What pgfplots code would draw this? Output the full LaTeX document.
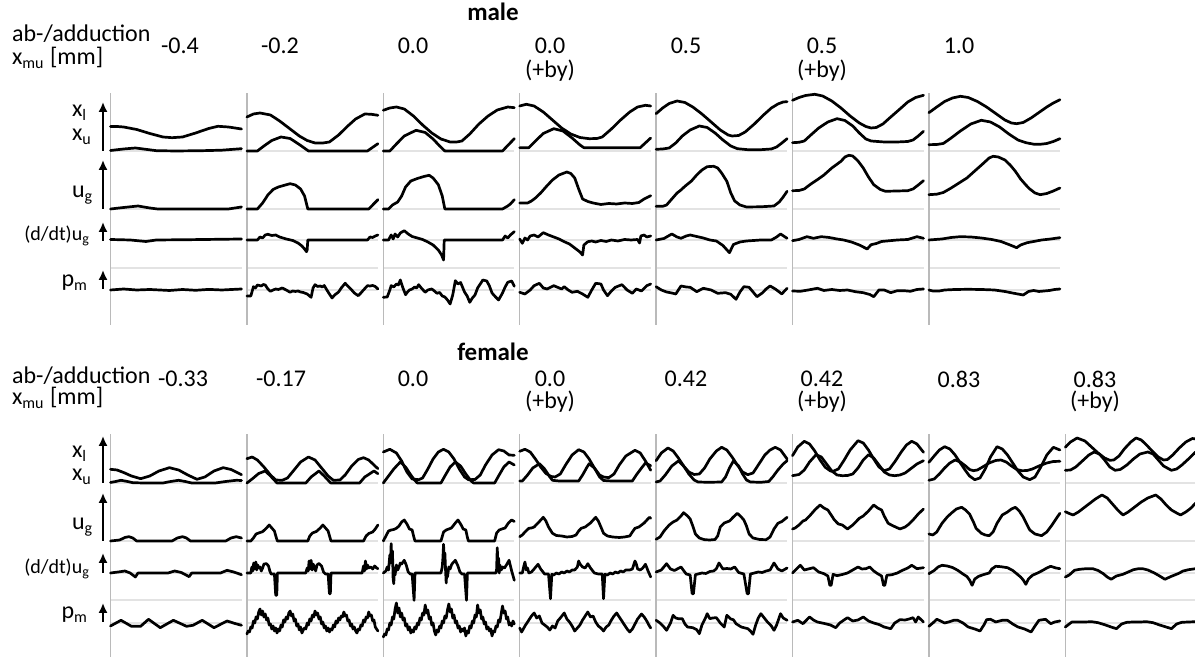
\documentclass[border=0pt]{standalone}
\usepackage{fontspec}
\setmainfont{Carlito}
\usepackage{pgfplots}
\pgfplotsset{compat=1.18}
\usetikzlibrary{arrows.meta}

% column origins (px) and helper styles; one px = 0.5pt
\def\ca{110.5}\def\cb{246.9}\def\cc{383.3}\def\cd{519.7}
\def\ce{656.1}\def\cf{792.5}\def\cg{928.9}\def\ch{1065.3}
\pgfplotsset{
  cell/.style 2 args={x filter/.expression={#1+1.31*x}, y filter/.expression={657-#2+y}},
  sig/.style={black, line width=1.35pt, line join=round, line cap=round},
  gl/.style={black!11, line width=1pt},
  vl/.style={black!27, line width=0.7pt},
  arr/.style={black, line width=1pt, -{Latex[length=5pt,width=4.6pt]}},
}
\newcommand{\mgrid}[1]{%
  \addplot[gl,cell={#1}{151}] coordinates {(0,0)(100,0)};
  \addplot[gl,cell={#1}{209}] coordinates {(0,0)(100,0)};
  \addplot[gl,cell={#1}{240}] coordinates {(0,0)(100,0)};
  \addplot[gl,cell={#1}{268}] coordinates {(0,0)(100,0)};
  \addplot[gl,cell={#1}{290}] coordinates {(0,0)(100,0)};
  \addplot[vl,cell={#1}{325}] coordinates {(0,0)(0,232)};}
\newcommand{\fgrid}[1]{%
  \addplot[gl,cell={#1}{483}] coordinates {(0,0)(100,0)};
  \addplot[gl,cell={#1}{541}] coordinates {(0,0)(100,0)};
  \addplot[gl,cell={#1}{573}] coordinates {(0,0)(100,0)};
  \addplot[gl,cell={#1}{600}] coordinates {(0,0)(100,0)};
  \addplot[gl,cell={#1}{623}] coordinates {(0,0)(100,0)};
  \addplot[vl,cell={#1}{657}] coordinates {(0,0)(0,223)};}

\begin{document}
\begin{tikzpicture}
\begin{axis}[width=597.5pt, height=328.5pt, scale only axis,
  xmin=0, xmax=1195, ymin=0, ymax=657, hide axis, clip=false,
  every node/.style={inner sep=0pt}]

\mgrid{\ca}\mgrid{\cb}\mgrid{\cc}\mgrid{\cd}\mgrid{\ce}\mgrid{\cf}\mgrid{\cg}
\fgrid{\ca}\fgrid{\cb}\fgrid{\cc}\fgrid{\cd}\fgrid{\ce}\fgrid{\cf}\fgrid{\cg}\fgrid{\ch}

% row arrows
\addplot[arr,cell={103}{151}] coordinates {(0,0)(0,49)};
\addplot[arr,cell={103}{209}] coordinates {(0,0)(0,49)};
\addplot[arr,cell={103}{241}] coordinates {(0,0)(0,19)};
\addplot[arr,cell={103}{289}] coordinates {(0,0)(0,19)};
\addplot[arr,cell={103}{483}] coordinates {(0,0)(0,47)};
\addplot[arr,cell={103}{541}] coordinates {(0,0)(0,48)};
\addplot[arr,cell={103}{573}] coordinates {(0,0)(0,20)};
\addplot[arr,cell={103}{622}] coordinates {(0,0)(0,19)};

% ================= male =================
% col 1 (-0.4)
\addplot[sig,cell={\ca}{151}] coordinates {(0,24.5)(5,24.5)(10,24)(20,21.5)(30,17.5)(40,14)(47,13.3)(55,14)(65,18)(75,22.5)(82,24.7)(90,24)(100,22)};
\addplot[sig,cell={\ca}{151}] coordinates {(0,0.5)(10,2)(19,3)(28,1.5)(35,0.3)(50,0)(70,0.3)(85,0.8)(100,2.3)};
\addplot[sig,cell={\ca}{209}] coordinates {(0,0)(10,1.5)(21,3)(30,1)(36,0)(90,0)(100,2)};
\addplot[sig,cell={\ca}{240}] coordinates {(0,0.5)(15,0)(27,-1.5)(35,0)(60,0.3)(100,1)};
\addplot[sig,cell={\ca}{290}] coordinates {(0,0)(10,1)(20,0)(30,0.5)(45,-0.5)(55,0.5)(65,-0.3)(75,0.6)(85,0)(100,1)};
% col 2 (-0.2)
\addplot[sig,cell={\cb}{151}] coordinates {(0,34)(5,37)(10,38)(18,36)(25,30)(33,22)(40,15)(46,10.5)(52,8)(58,8)(63,9)(70,16)(77,25)(83,32)(90,37)(95,36.7)(100,35.7)};
\addplot[sig,cell={\cb}{151}] coordinates {(0,0)(8,0)(13,5)(19,10.5)(26,14)(33,12.5)(40,6.5)(47,0)(92,0)(100,7.3)};
\addplot[sig,cell={\cb}{209}] coordinates {(0,0)(8,0)(12,6)(16,14)(20,19.5)(24,22)(28,23.5)(33,25.3)(37,24)(41,20)(44,13)(46.5,0)(93,0)(100,9.3)};
\addplot[sig,cell={\cb}{240}] coordinates {(0,0)(8,0)(10,3)(12,2)(14,5)(16,5.7)(19,4.5)(22,5)(25,3)(30,1)(35,-0.5)(39,-3)(42,-6)(44,-9)(45.5,-11.7)(46,-10)(46.5,0)(92,0)(94,3)(96,2.5)(98,4)(100,5)};
\addplot[sig,cell={\cb}{290}] coordinates {(0,-6)(3,-6)(5,3.3)(6.5,2)(8,5)(11,4)(12.5,5.5)(14,5)(16,1)(18,-1.3)(20,0)(22,1)(24,0.5)(27,2)(30,0)(33,-2.3)(35,-1)(37,-1.5)(39,-1)(41,-2)(43,-2.5)(46,-4)(49,-7.3)(50.5,2)(52,5.3)(54,3.5)(56,4)(57.5,3)(59,4.5)(62,-2)(65,-8)(67,-5)(70,-2)(72,2)(75,6.7)(77,4)(80,0)(82,-3)(85,-5.7)(87,-3)(89,0)(92,4.3)(94,4)(96,4.5)(98,3.5)(100,1)};
% col 3 (0.0)
\addplot[sig,cell={\cc}{151}] coordinates {(0,40.7)(5,43)(10,44)(16,42)(23,35)(30,26)(37,18)(44,12)(51,9)(56,9)(60,10)(66,17)(73,27)(80,35)(87,41)(95,44)(100,43.3)};
\addplot[sig,cell={\cc}{151}] coordinates {(0,0)(5,0)(10,7)(16,15)(25,20.7)(32,18.5)(38,12)(43,5)(47,0)(91,0)(100,12.3)};
\addplot[sig,cell={\cc}{209}] coordinates {(0,0)(4,0)(7,4)(11,7)(14,13)(17,22)(21,28)(26,30.5)(31,32.5)(35,33.7)(38,31)(42,24.3)(45,13)(47,0)(91,0)(95,3)(97,5)(100,9.3)};
\addplot[sig,cell={\cc}{240}] coordinates {(0,0)(4,0)(6,5)(7.5,1)(9,6)(11,3)(13,7)(16,9.3)(19,6)(22,3.5)(26,2)(30,0.5)(34,-2)(38,-5)(42,-10)(44.5,-15)(46,-20)(46.5,0)(91,0)(93,4)(95,2)(97,5)(100,8.3)};
\addplot[sig,cell={\cc}{290}] coordinates {(0,-7.3)(3,-7)(5,0)(6,4.3)(8,3)(10,6)(11.5,5)(13,10)(15,2)(17,-4.7)(18.5,-2)(20,0)(22,1)(24,3)(25.5,2)(27,5.3)(29,2)(32,-2.3)(34,0)(37,1)(39,-1)(41,-3.3)(43,-2.5)(45,-6)(47,-7)(49,-10)(51,-14)(53,-5)(55,9.3)(57,6)(59,7.5)(62,-2)(64,-6)(66,-12.3)(68,-8)(70,-5)(72,2)(74,6)(76,10)(79,9)(81,4)(83,-3)(85,-6)(88,-10)(91,-3)(93,3)(95,7.7)(98,9)(100,3.7)};
% col 4 (0.0 +by)
\addplot[sig,cell={\cd}{151}] coordinates {(0,45)(5,46.7)(11,45)(18,39)(25,31)(32,23)(39,17)(46,13.5)(53,12.3)(59,12.5)(63,14)(70,22)(77,31)(84,39)(90,44)(96,45.7)(100,45)};
\addplot[sig,cell={\cd}{151}] coordinates {(0,3.3)(7,3.3)(12,10)(18,17.5)(26,22.3)(33,20)(40,13)(46,6)(49,3.3)(92,3.3)(100,13)};
\addplot[sig,cell={\cd}{209}] coordinates {(0,6)(6,6)(9,8)(12,11)(16,16)(20,22)(25,29)(30,34)(36,37)(39,35.5)(42,31)(45,20)(48,10)(52,7.5)(56,6)(62,4.5)(68,5.5)(74,5)(80,6)(86,5.5)(91,6.5)(95,10)(100,13.3)};
\addplot[sig,cell={\cd}{240}] coordinates {(0,1)(2,-3.3)(4,2)(6,0)(8,4)(11,5)(14,3)(18,7.3)(22,5)(26,3)(30,1)(34,-1.7)(38,-4)(42,-8)(46,-12)(48,-15)(49,-5)(52,-1.7)(55,-1)(58,-2)(62,-0.5)(66,-1.5)(70,0)(75,-1)(80,0.5)(85,0)(90,0.5)(91.5,-3)(92.5,4)(95,5)(97,3)(100,4)};
\addplot[sig,cell={\cd}{290}] coordinates {(0,-2.3)(4,-4)(8,0)(11,4.3)(15,6.7)(18,2)(21,1)(26,4.3)(32,1)(34,3.3)(37,0)(40,-2.3)(44,-1.3)(48,-4)(52,-7.3)(55,0)(58,6.7)(62,6)(64,0)(67,-5.7)(70,-1)(73,2.7)(78,5.3)(82,0)(86,-3.3)(89,1)(93,-1)(97,4.3)(100,6)};
% col 5 (0.5)
\addplot[sig,cell={\ce}{151}] coordinates {(0,37.3)(5,43)(10,47.5)(16,50)(22,48.5)(28,44)(35,37)(42,29)(49,21)(55,16)(58,15)(63,15.5)(68,19)(75,27)(82,36)(88,43)(93,47)(97,49)(100,49.3)};
\addplot[sig,cell={\ce}{151}] coordinates {(0,1.7)(5,2)(10,3)(15,8)(20,15)(26,21)(33,25)(39,23.5)(45,18)(51,11)(57,5)(62,2.3)(70,1.3)(80,1.3)(88,2)(92,4)(96,8)(100,12.3)};
\addplot[sig,cell={\ce}{209}] coordinates {(0,2.7)(5,2.7)(8,4)(12,10)(16,16)(19,19)(22,22.7)(27,28)(31,34)(35,39)(39,42.3)(44,42.7)(47,41)(50,36)(54,27.7)(57,16)(60,8)(64,4)(69,2)(80,2.2)(90,3)(94,7)(97,12)(100,17.7)};
\addplot[sig,cell={\ce}{240}] coordinates {(0,0)(6,1.5)(12,6)(16,3)(19,1.7)(23,4)(26,5)(31,3.5)(36,2)(41,0)(46,-1)(51,-5.5)(56,-12.7)(59,-4.5)(64,-2)(69,-1)(80,0)(88,0)(92,3)(95,6)(100,1.7)};
\addplot[sig,cell={\ce}{290}] coordinates {(0,3.3)(4,0)(8,-2)(12,-3)(15,-4)(17,0)(19,4)(23,3)(26,2.7)(31,-1.7)(36,1.7)(42,0)(47,-3.3)(53,-2.7)(57,-4.3)(61,-9.3)(64,-2)(67,3.3)(71,2.7)(74,-2)(77,-6.7)(81,-3)(84,1)(87,4)(91,1)(94,-2)(96,-4)(98,-1)(100,1.7)};
% col 6 (0.5 +by)
\addplot[sig,cell={\cf}{151}] coordinates {(0,50.7)(5,53.5)(10,55.5)(17,56.7)(23,55)(30,50)(37,43)(44,35)(51,28)(56,24.5)(60,23)(64,23.5)(69,27)(75,34)(82,42)(88,49)(94,53.5)(100,55.7)};
\addplot[sig,cell={\cf}{151}] coordinates {(0,8.3)(5,8.7)(9,10)(14,16)(20,23)(27,29)(34,32.3)(40,30.5)(46,25)(51,18)(56,12)(60,10)(70,9)(80,9)(88,9.5)(92,11)(96,15)(100,19.7)};
\addplot[sig,cell={\cf}{209}] coordinates {(0,18.3)(5,18.5)(9,20)(14,25)(19,29.3)(24,34)(30,41)(37,47.7)(40,52)(43,53.7)(46,53)(50,48)(54,41)(58,32)(62,24.3)(67,19.5)(71,17.7)(80,18)(88,18.3)(92,20)(96,24)(100,28.3)};
\addplot[sig,cell={\cf}{240}] coordinates {(0,-0.7)(5,0.5)(11,3.3)(16,1.7)(22,3.3)(28,2.5)(34,1)(39,0)(45,-2)(51,-5)(57,-9)(60,-4.7)(64,-3.5)(68,-1.5)(72,-1)(80,0)(88,0.5)(95,3.3)(100,1.7)};
\addplot[sig,cell={\cf}{290}] coordinates {(0,-1)(6,-1.3)(12,0)(19,1.7)(24,-0.5)(30,0.5)(36,-0.5)(42,0)(48,-1.7)(54,-2.7)(59,-4.5)(62,-6.7)(66,0)(70,0)(75,-2.7)(80,-0.7)(85,-0.7)(90,-1.3)(95,0.5)(100,1)};
% col 7 (1.0)
\addplot[sig,cell={\cg}{151}] coordinates {(0,38.3)(6,44)(12,49.5)(18,53)(24,54.7)(30,53.5)(37,49.5)(44,44)(51,37.5)(58,31)(63,28)(67,27.3)(72,28.5)(78,33)(84,38.5)(90,44)(95,48)(100,51.3)};
\addplot[sig,cell={\cg}{151}] coordinates {(0,6.3)(6,6.5)(11,7.5)(17,13)(24,20)(32,27)(40,30.7)(47,29)(54,24)(61,17)(68,11)(74,8.3)(80,6.8)(85,6.7)(90,7.5)(95,9.5)(100,12.3)};
\addplot[sig,cell={\cg}{209}] coordinates {(0,14.3)(6,14.8)(11,16.5)(17,21)(23,26)(29,31)(35,38)(41,45)(46,51)(49,52.7)(53,52)(58,49)(62,44)(66,37.7)(70,30)(74,24)(77,20)(81,16)(85,14.3)(90,15.5)(95,18)(100,21)};
\addplot[sig,cell={\cg}{240}] coordinates {(0,0)(10,1)(17,2.5)(24,3.3)(32,3)(40,2)(48,0.5)(55,-1.5)(61,-4.5)(67,-7.7)(70,-5)(75,-2.7)(80,-1.5)(86,0)(93,1)(100,2.3)};
\addplot[sig,cell={\cg}{290}] coordinates {(0,0)(3,-1)(8,-1)(12,0)(20,0.5)(30,0.7)(40,0.5)(50,0)(58,-1.5)(65,-3.3)(72,-5)(76,-1.5)(80,-0.5)(84,-1.5)(88,-1)(92,-0.5)(96,0.5)(100,1)};

% ================= female =================
% col 1 (-0.33)
\addplot[sig,cell={\ca}{483}] coordinates {(0,13.7)(5,13)(10,10.5)(16,7)(23,4.3)(30,7)(37,12)(45,15.3)(52,13)(59,8)(66,3.7)(72,6)(79,12)(86,15.3)(92,13.5)(100,8.3)};
\addplot[sig,cell={\ca}{483}] coordinates {(0,0.5)(4,1.5)(8,2.7)(13,1.5)(17,0.3)(25,0)(40,0)(46,1.5)(52,2.7)(57,1.5)(62,0)(80,0)(88,1.5)(96,2.7)(100,2.5)};
\addplot[sig,cell={\ca}{541}] coordinates {(0,0)(7,1)(11,3.5)(14,4.3)(17,3)(20,0)(47,0)(51,3)(55,4.3)(58,3)(61,0)(88,0)(92,3)(96,4.3)(100,3)};
\addplot[sig,cell={\ca}{573}] coordinates {(0,0)(6,1)(11,2)(15,0)(19,-4)(21,0)(44,0)(49,2)(54,0.5)(57,-1.5)(60,-3.7)(62,0)(84,0)(89,2.7)(94,1)(100,-1.7)};
\addplot[sig,cell={\ca}{623}] coordinates {(0,-3)(8,2.7)(16,-3.3)(23,-3.3)(29,3.7)(38,-4.7)(48,2.7)(58,-3.3)(63,-2.3)(70,2.7)(79,-4.7)(89,2)(95,-0.5)(100,-2.3)};
% col 2 (-0.17)
\addplot[sig,cell={\cb}{483}] coordinates {(0,24.3)(4,26)(8,23)(13,16)(18,8)(22,3)(27,2.7)(31,5)(36,13)(41,21)(47,26)(52,23)(57,15)(62,7)(66,2.7)(71,3)(75,8)(80,17)(85,23.5)(89,25.3)(93,23)(97,18)(100,14.3)};
\addplot[sig,cell={\cb}{483}] coordinates {(0,0)(4,4)(9,9.5)(14,12)(18,7)(23,0)(45,0)(49,6)(55,12)(59,7)(64,0)(86,0)(90,6)(97,12)(100,9.3)};
\addplot[sig,cell={\cb}{541}] coordinates {(0,0)(3,0)(5,3)(7,7)(9,8)(12,9.3)(15,13)(17,16)(19,13)(21,10)(22.5,3)(23.3,0)(46.5,0)(48,5)(50,8)(53,9.5)(56,13)(58,16)(60,13)(62,10)(63.5,3)(64.2,0)(89,0)(91,5)(93,7.5)(96,9)(98,12)(100,16)};
\addplot[sig,cell={\cb}{573}] coordinates {(0,0)(3,0)(3.8,6)(4.5,2)(5.2,10)(6,4)(6.8,11)(7.5,3)(8.3,8)(9,5)(10,6)(11,2)(12,5)(13,9)(15,9.3)(16.5,7)(17.5,2)(18.5,-1)(21,-1)(22,-22.3)(22.8,-22.3)(23.3,0)(45,0)(46,5)(46.8,2)(47.5,12)(48.2,4)(49,12.7)(49.8,3)(50.5,9)(51.5,6)(52.5,2)(53.5,8)(55,9.5)(57,7)(58.5,1)(60,-1)(62,-1)(63,-20.7)(63.7,-20.7)(64.2,0)(88,0)(89,7)(89.7,2)(90.5,12)(91.3,4)(92,8)(93,5)(94.5,6)(96,4)(97.5,7)(99,5)(100,4.3)};
\addplot[sig,cell={\cb}{623}] coordinates {(0,-11)(1,-8)(2,-9)(3,-4)(4,-5)(5,2)(6,0)(7,6)(8,4)(9,11)(10,14)(11,8)(12,12)(13,6)(14,9)(15,3)(16,5)(17,-2)(18,-1)(19,-6)(20,-3)(21,-8)(22,-5)(23,-10)(24,-6)(25,-8)(26,-2)(27,-4)(28,3)(29,1)(30,6)(31,4)(32,10)(33,12)(34,7)(35,9)(36,2)(37,4)(38,-3)(39,-1)(40,-7)(41,-4)(42,-10)(43,-7)(44,-5)(45,-6)(46,0)(47,-2)(48,4)(49,2)(50,8)(51,6)(52,12)(53,8)(54,10)(55,4)(56,6)(57,-1)(58,1)(59,-5)(60,-3)(61,-8)(62,-5)(63,-9)(64,-6)(65,-7)(66,-2)(67,-4)(68,2)(69,0)(70,5)(71,3)(72,7)(73,6)(74,11)(75,7)(76,8)(77,2)(78,3)(79,-3)(80,-1)(81,-6)(82,-4)(83,-8)(84,-10)(85,-6)(86,-7)(87,-2)(88,-3)(89,3)(90,1)(91,6)(92,5)(93,11)(94,7)(95,8)(96,2)(97,3)(98,-4)(99,-6)(100,-8)};
% col 3 (0.0)
\addplot[sig,cell={\cc}{483}] coordinates {(0,31)(5,33.7)(10,30)(14,22)(18,11)(22,4)(27,3.3)(30,5)(34,14)(38,24)(42,31)(46,33.7)(50,31)(54,24)(58,14)(62,6)(65,3.3)(70,3.5)(74,8)(78,18)(83,28)(88,33.3)(92,32)(96,28)(100,27.7)};
\addplot[sig,cell={\cc}{483}] coordinates {(0,0)(4,7)(8,14)(13,21)(17,16)(21,8)(24,2.7)(26,0)(44,0)(47,7)(51,16)(55,21)(59,17)(63,9)(67,2)(69,0)(85,0)(88,7)(92,16)(96,21)(100,18)};
\addplot[sig,cell={\cc}{541}] coordinates {(0,0)(2,5)(4,10)(6,11)(8,11.5)(10,12.7)(12,15)(14,19)(16,21)(18,17)(20,12)(22,11)(23.5,3)(24.2,0)(44,0)(46,9)(48,11)(50,12)(52,13)(55,18)(57,21)(59,17)(61,12)(63,11)(64.3,3)(65,0)(85,0)(86.5,8)(88.5,11)(90.5,12)(93,13)(95.5,18)(98,21)(100,19.5)};
\addplot[sig,cell={\cc}{573}] coordinates {(0,0)(2,2)(3,6)(4,3)(5,18)(5.5,10)(6,29.3)(6.5,12)(7,22)(7.5,-6)(8,-10.7)(8.5,5)(9,-2)(10,8)(11,3)(12,6)(13,10)(14,9)(16,12.7)(17.5,8)(19,1)(20.5,-1)(22,-1)(23.5,-27.3)(24.2,0)(44,0)(45,6)(45.5,15)(46,28.7)(46.5,10)(47,20)(47.5,4)(48,-10)(48.5,2)(49,-4)(50,6)(51,4)(52,8)(53,10)(55,12.7)(57,7)(58.5,1)(60,-1)(62,-1)(63.5,-27.3)(64.2,0)(86,0)(86.5,4)(87,25.3)(87.5,6)(88,15)(88.5,0)(89,8)(90,3)(91,6)(92.5,5)(94,8)(96,12.7)(98,2)(100,-7.3)};
\addplot[sig,cell={\cc}{623}] coordinates {(0,-14)(1,-11)(2,-12)(3,-6)(4,-7)(5,0)(6,-2)(7,6)(8,4)(9,14)(10,20)(11,10)(12,15)(13,6)(14,10)(15,3)(16,5)(17,-3)(18,-1)(19,-7)(20,-4)(21,-10)(22,-7)(23,-9)(24,-4)(25,-6)(26,0)(27,-2)(28,5)(29,3)(30,10)(31,8)(32,18)(33,10)(34,13)(35,4)(36,6)(37,-2)(38,0)(39,-8)(40,-12)(41,-7)(42,-9)(43,-3)(44,-5)(45,2)(46,0)(47,7)(48,5)(49,13)(50,19)(51,11)(52,14)(53,5)(54,8)(55,0)(56,2)(57,-5)(58,-3)(59,-9)(60,-6)(61,-8)(62,-5)(63,-13)(64,-8)(65,-10)(66,-3)(67,-5)(68,2)(69,0)(70,8)(71,6)(72,18)(73,10)(74,13)(75,4)(76,6)(77,-1)(78,1)(79,-6)(80,-4)(81,-8)(82,-6)(83,-13)(84,-8)(85,-9)(86,-3)(87,-4)(88,3)(89,1)(90,9)(91,17)(92,10)(93,12)(94,4)(95,6)(96,-2)(97,0)(98,-3)(99,2)(100,-1)};
% col 4 (0.0 +by)
\addplot[sig,cell={\cd}{483}] coordinates {(0,31.7)(4,33.7)(8,31)(12,24)(16,16)(20,9.5)(24,6.5)(27,6)(31,9)(35,18)(40,28)(45,33.3)(49,31)(53,24)(57,15)(61,8)(64,6)(68,5.3)(72,9)(76,18)(81,27)(88,32.7)(92,30)(96,22)(100,12.7)};
\addplot[sig,cell={\cd}{483}] coordinates {(0,2)(2,2)(6,8)(10,15)(15,19.3)(19,14)(23,6)(25,2.7)(30,2)(45,2)(48,8)(51,15)(53,19.3)(57,15)(61,6)(64,2.5)(70,2)(86,2)(89,8)(93,15)(96,20)(100,17.3)};
\addplot[sig,cell={\cd}{541}] coordinates {(0,4.3)(2,6)(4,9)(7,12.7)(9,13)(11,14)(14,18)(18,23.7)(20,20)(22,14)(25,7.7)(28,5.5)(32,5)(36,4)(40,4.5)(43,6)(45,10)(47,12.7)(50,14)(54,18)(58,23.7)(60,20)(62,14)(64,7.7)(67,5)(71,4)(76,3.5)(80,4)(84,5)(86,9)(88,12.7)(91,14)(95,18)(99,23.7)(100,22.7)};
\addplot[sig,cell={\cd}{573}] coordinates {(0,0)(2,0)(3,6)(4,11)(5,3)(6,5)(7,0)(9,1)(11,4)(14,8.7)(16,4)(19,-1)(22,-1)(23.5,-25.7)(24.5,-1.3)(26,-2)(28,0)(30,-1)(32,1)(34,0)(36,2)(38,1)(40,3)(42,3)(44,6)(45,12)(46,9)(48,6)(50,5)(52,9.3)(54,5)(57,0)(60,-1)(63,-1)(64,-25.7)(65,-1.3)(67,-2)(69,0)(71,-1)(73,1)(75,0)(77,2)(79,1)(81,3)(84,3)(86,4)(88,12)(89,9)(90,4)(92,3)(94,5)(96,8.7)(98,2)(100,-4)};
\addplot[sig,cell={\cd}{623}] coordinates {(0,-5)(1.5,-9)(4,-3)(7,3)(9,7)(11,10)(13,5)(15,7)(17,0)(19,-2)(21,-4)(23,-7)(25,-3)(27,-5)(29,2)(31,5)(34,10)(36,4)(38,1)(40,-3)(42,-8)(44,-5)(46,-2)(48,3)(50,7)(52,11)(54,6)(56,7)(58,1)(60,-3)(62,-5)(64,-8)(66,-4)(68,-2)(70,3)(72,7)(74,10)(76,6)(78,2)(80,-2)(82,-6)(84,-9)(86,-6)(88,-1)(90,4)(93,9)(95,6)(97,2)(99,-3)(100,-5)};
% col 5 (0.42)
\addplot[sig,cell={\ce}{483}] coordinates {(0,22.3)(4,30)(9,35)(13,32)(17,25)(21,17)(25,11)(29,8.5)(33,9)(37,15)(41,24)(46,32)(50,35.7)(54,33)(58,26)(62,18)(66,11)(70,8.3)(74,10)(78,18)(83,28)(87,33)(91,35.7)(95,33)(100,24)};
\addplot[sig,cell={\ce}{483}] coordinates {(0,1)(3,2)(7,8)(12,17)(17,22)(21,17)(25,9)(29,3)(32,1)(40,0.7)(50,1)(53,6)(56,15)(59,22)(63,17)(66,9)(69,3)(72,1)(80,0.7)(86,1.5)(89,6)(93,13)(97,19)(100,22.3)};
\addplot[sig,cell={\ce}{541}] coordinates {(0,1.7)(3,4)(6,10)(10,16)(13,19)(16,21)(19,25)(21,28.3)(24,25)(26,22)(28,15)(30,7)(33,3)(37,1.3)(41,1)(45,1.5)(47,5)(49,14)(52,18)(56,20)(59,24)(62,27.7)(65,24)(67,21)(69,15)(71,7)(74,3)(79,1.5)(84,1.3)(87,4)(90,12)(93,17.7)(96,19.5)(100,23.7)};
\addplot[sig,cell={\ce}{573}] coordinates {(0,1)(4,3)(8,9.3)(11,4)(14,2.5)(19,6)(23,-1)(26,-2)(27.5,-20.7)(28.5,-20.7)(30,-1.7)(32,-1)(35,0)(38,-0.5)(41,1.5)(44,2)(46,4.3)(48,10)(51,4)(54,4.5)(57,4)(60,6)(63,0.5)(67,-1)(69.5,-20.7)(70.5,-20.7)(72,-1)(75,0)(78,1)(81,0.5)(84,2)(87,3)(90,10)(93,4)(96,2)(100,5)};
\addplot[sig,cell={\ce}{623}] coordinates {(0,2.7)(3,0)(6,-4)(8,-7.3)(11,0)(13,7.7)(15,5)(17,4.3)(20,4.3)(22,-1)(24,-4)(28,-4.7)(31,-6.7)(33,-10.7)(35,-2)(38,6)(39,9.3)(41,4.3)(43,5)(46,5.3)(49,0)(52,-4)(54,7.7)(57,4)(59,3.3)(61,-0.7)(65,-4)(70,-5.7)(72,-8)(74,-11.3)(76,-2)(78,5)(80,9.3)(83,4.3)(85,1)(88,-3)(90,-7.3)(92,-2)(95,9.3)(97,5)(100,2.7)};
% col 6 (0.42 +by)
\addplot[sig,cell={\cf}{483}] coordinates {(0,27.3)(4,36)(9,41.7)(13,39)(17,32)(21,23)(25,15.7)(29,12)(31,11.7)(35,14)(39,22)(44,33)(50,42.3)(54,40)(58,33)(62,24)(66,16)(70,12.3)(74,14)(78,21)(83,31)(87,38)(91,41.7)(95,39)(100,30.7)};
\addplot[sig,cell={\cf}{483}] coordinates {(0,7.3)(5,8.5)(9,13)(13,21)(18,28.3)(22,26)(26,19)(30,12)(34,8)(38,7.3)(42,7.5)(46,9)(50,15)(54,23)(58,28.3)(62,25)(66,18)(70,11)(74,8)(78,7.3)(82,8)(86,10)(90,14)(95,19)(100,22.3)};
\addplot[sig,cell={\cf}{541}] coordinates {(0,12)(2,13)(5,16)(8,20)(10,21)(13,25)(17,31)(21,36)(24,33)(27,31)(30,25)(32,21)(35,17)(38,16)(42,12)(46,16)(51,22.7)(54,25)(58,30)(62,36)(65,33)(68,31)(70,25)(73,17.7)(77,15)(82,12)(86,14)(89,17)(92,21)(96,27)(100,32)};
\addplot[sig,cell={\cf}{573}] coordinates {(0,0)(3,4)(6,7.7)(9,3)(12,4)(16,5.3)(20,1)(24,-0.7)(27,-3)(28.5,-12.3)(29.5,-12.3)(31,-1.3)(34,-2.7)(38,-1.5)(42,0)(46,3)(50,6)(53,4)(56,4.3)(59,6)(62,2)(65,-0.7)(68,-3)(69.5,-12.3)(70.5,-12.3)(72,-2.3)(76,-1.7)(80,0)(84,2.7)(88,5)(91,7.7)(95,4.3)(100,5.3)};
\addplot[sig,cell={\cf}{623}] coordinates {(0,1)(4,2.7)(8,-0.7)(13,6)(16,3)(19,1)(25,-0.7)(29,-2)(33,-4.7)(36,0)(39,2.7)(42,5.3)(46,2)(50,3)(54,6)(58,2)(62,0)(66,-1.5)(70,-4)(75,-5.7)(78,0)(82,3.3)(86,3)(89,4)(92,5.3)(94,1)(96,6)(100,1)};
% col 7 (0.83)
\addplot[sig,cell={\cg}{483}] coordinates {(0,20.7)(4,27)(8,33)(12,36.3)(16,34)(20,28)(24,20)(28,12.3)(31,7)(35,3.3)(39,5)(43,14)(47,26)(52,36.3)(56,34)(60,28)(64,20)(68,12)(72,6)(77,3.3)(81,6)(85,15)(90,28)(95,35.7)(100,33)};
\addplot[sig,cell={\cg}{483}] coordinates {(0,2.7)(4,4)(8,9)(12,15)(16,20)(20,23)(24,21)(28,17)(31,13.5)(34,12.3)(37,13)(41,16)(46,20)(51,22.5)(55,23)(59,21)(63,17)(67,13.5)(71,12.3)(75,12.5)(79,14)(84,17)(90,20)(95,21.5)(100,21.7)};
\addplot[sig,cell={\cg}{541}] coordinates {(0,7)(3,6)(6,9)(10,17.7)(14,24)(17,27.7)(21,32)(25,33.7)(28,31)(31,27)(34,19)(36,12.7)(40,7.7)(43,6)(46,5.3)(49,9)(52,17.7)(56,26)(60,29)(63,32)(66,33.7)(69,30)(72,24)(75,16)(77,11)(81,7)(86,5.3)(90,9)(94,16)(97,22)(100,27.7)};
\addplot[sig,cell={\cg}{573}] coordinates {(0,-0.7)(4,2.5)(7,6)(10,7.7)(14,7)(18,5.5)(22,2.7)(26,-1)(29,-3.5)(31,-7)(33,-12.3)(35,-6)(38,-3.3)(42,-1.5)(46,0)(48,4)(51,6.7)(55,6.3)(60,5.3)(64,2.5)(67,-0.7)(70,-4)(72,-7)(74,-11.3)(76,-6)(79,-2.3)(83,0)(87,2.7)(90,5)(93,6.7)(97,5)(100,4.3)};
\addplot[sig,cell={\cg}{623}] coordinates {(0,-3.3)(3,0)(6,3.7)(9,2)(12,0)(15,1)(19,2.7)(22,2.7)(26,0)(30,-4)(35,-6)(39,-8)(42,-2)(44,3.3)(47,3.7)(51,1)(56,2.7)(60,2.7)(64,-1)(68,-4)(73,-6)(78,-9)(81,-3)(84,2.7)(89,3.7)(93,-0.7)(96,1)(100,2)};
% col 8 (0.83 +by)
\addplot[sig,cell={\ch}{483}] coordinates {(0,35.7)(4,41)(9,45)(15,42)(20,36)(25,30)(30,25)(34,22.7)(37,23)(41,27)(45,34)(50,41)(54,45)(58,43)(62,38)(67,31)(71,26)(75,23)(78,23.5)(82,28)(87,35)(92,41)(97,44.5)(99.5,44)};
\addplot[sig,cell={\ch}{483}] coordinates {(0,12.7)(4,13)(8,16)(13,22)(18,28)(22,31)(26,29)(30,23)(34,16)(38,12.7)(42,13.5)(47,18)(52,24)(57,29)(63,31)(67,29)(71,23)(75,17)(81,12.7)(85,14)(89,18)(94,24)(99.5,31)};
\addplot[sig,cell={\ch}{541}] coordinates {(0,29.3)(3,27.5)(6,26)(10,29)(14,33)(18,37)(23,42)(28,46)(32,43)(36,37)(40,31)(44,26)(48,29)(53,34)(58,39)(63,43)(69,46)(73,42)(77,36)(81,31)(85,28)(88,26)(92,29)(96,33)(99.5,38)};
\addplot[sig,cell={\ch}{573}] coordinates {(0,-4)(3,-2)(7,2.7)(11,3.7)(16,4.3)(21,4.3)(25,2.5)(29,-0.7)(32,-4)(35,-6.3)(39,-3)(44,-1.3)(48,1)(52,3.3)(56,4.3)(59,4.3)(63,3)(68,0)(72,-3)(76,-6.3)(81,-3.3)(86,-0.7)(90,2)(94,3.3)(99.5,4.3)};
\addplot[sig,cell={\ch}{623}] coordinates {(0,-4)(3,-1)(5,1)(10,1)(15,1)(20,1.3)(25,0.3)(30,-1.7)(35,-4)(39,-5.7)(43,-1)(47,0.7)(52,1)(57,1)(62,1.3)(67,0.3)(72,-2)(77,-4)(81,-5.7)(85,-1)(89,0.7)(94,1)(99.5,1.3)};

% ================= text =================
\begin{scope}[font=\fontsize{12}{14}\selectfont]
\node[font=\fontsize{12.5}{14}\selectfont\bfseries] at (axis cs:493,645) {male};
\node[anchor=west] at (axis cs:5,623) {ab-/adduction};
\node[anchor=west] at (axis cs:5,599) {x\textsubscript{mu} [mm]};
\node at (axis cs:180,611) {-0.4};
\node at (axis cs:280,611) {-0.2};
\node at (axis cs:413,611) {0.0};
\node at (axis cs:550,611) {0.0};
\node at (axis cs:550,586) {(+by)};
\node at (axis cs:686,611) {0.5};
\node at (axis cs:822,611) {0.5};
\node at (axis cs:822,586) {(+by)};
\node at (axis cs:959,611) {1.0};
\node[font=\fontsize{12.5}{14}\selectfont\bfseries] at (axis cs:493,305) {female};
\node[anchor=west] at (axis cs:5,281) {ab-/adduction};
\node[anchor=west] at (axis cs:5,259) {x\textsubscript{mu} [mm]};
\node at (axis cs:183,278) {-0.33};
\node at (axis cs:281,278) {-0.17};
\node at (axis cs:413,278) {0.0};
\node at (axis cs:550,278) {0.0};
\node at (axis cs:550,255) {(+by)};
\node at (axis cs:686,278) {0.42};
\node at (axis cs:822,278) {0.42};
\node at (axis cs:822,255) {(+by)};
\node at (axis cs:959,278) {0.83};
\node at (axis cs:1095,278) {0.83};
\node at (axis cs:1095,255) {(+by)};
% row labels
\node[anchor=base west] at (axis cs:65,540) {x\textsubscript{l}};
\node[anchor=base west] at (axis cs:65,516) {x\textsubscript{u}};
\node[anchor=base west] at (axis cs:65,459) {u\textsubscript{g}};
\node[anchor=base east] at (axis cs:95,370) {p\textsubscript{m}};
\node[anchor=base west] at (axis cs:65,199) {x\textsubscript{l}};
\node[anchor=base west] at (axis cs:65,176) {x\textsubscript{u}};
\node[anchor=base west] at (axis cs:65,127) {u\textsubscript{g}};
\node[anchor=base east] at (axis cs:95,38) {p\textsubscript{m}};
\end{scope}
\begin{scope}[font=\fontsize{10}{12}\selectfont]
\node[anchor=base east] at (axis cs:97,416) {(d/dt)u\textsubscript{g}};
\node[anchor=base east] at (axis cs:97,83) {(d/dt)u\textsubscript{g}};
\end{scope}
\coordinate (SW) at (axis cs:0,0);
\coordinate (NE) at (axis cs:1195,657);
\end{axis}
\pgfresetboundingbox
\path (SW) rectangle (NE);
\end{tikzpicture}
\end{document}
